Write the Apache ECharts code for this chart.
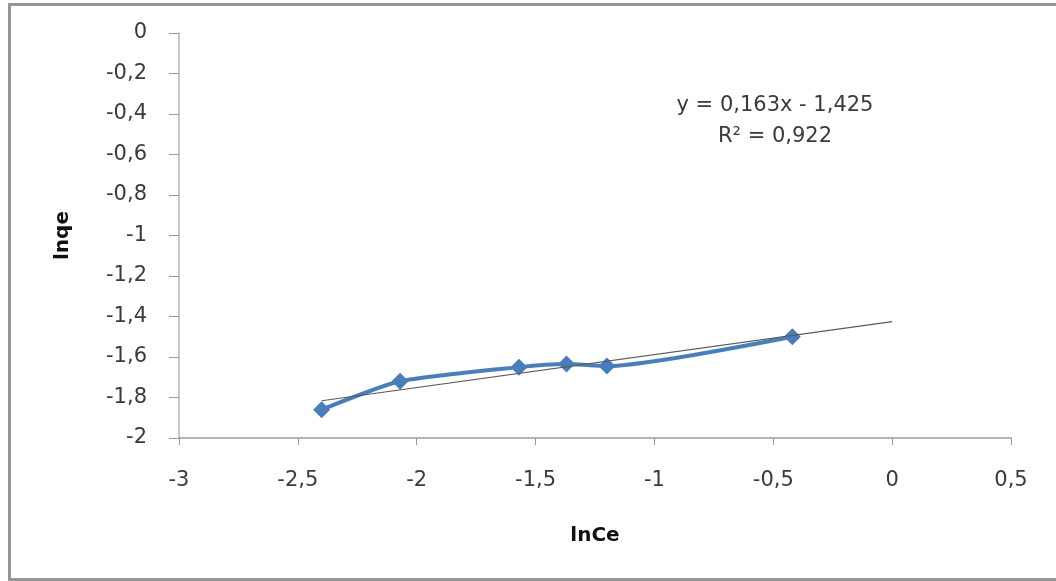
<!DOCTYPE html>
<html>
<head>
<meta charset="utf-8">
<script src="https://cdn.jsdelivr.net/npm/echarts@6/dist/echarts.min.js"></script>
<style>
    body { margin: 0; background: #fff; }
    #frame { position: absolute; left: 8px; top: 3px; width: 1070px; height: 572px; border: 3px solid #959595; }
    #chart { position: absolute; left: 0; top: 0; width: 1056px; height: 581px; }
</style>
</head>
<body>
<div id="frame"></div>
<div id="chart"></div>
<script>
// measured points (lnCe, lnqe)
const lnCe = [-2.40, -2.07, -1.57, -1.37, -1.20, -0.42];
const lnqe = [-1.86, -1.72, -1.65, -1.635, -1.645, -1.50];
// linear trendline endpoints
const trendX = [-2.40, 0];
const trendY = [-1.816, -1.425];
const eqText = "y = 0,163x - 1,425";
const r2Text = "R² = 0,922";

const font = "'DejaVu Sans', sans-serif";

function comma(v) {
    return String(Math.round(v * 10) / 10).replace('.', ',');
}

let chart = echarts.init(document.getElementById("chart"));
chart.setOption({
    animation: false,
    grid: { left: 179, top: 33, right: 45, bottom: 143 },
    xAxis: {
        type: 'value', min: -3, max: 0.5, interval: 0.5,
        name: 'lnCe', nameLocation: 'middle', nameGap: 88,
        nameTextStyle: { fontFamily: font, fontSize: 20, fontWeight: 'bold', color: '#111' },
        axisLine: { onZero: false, lineStyle: { color: '#9a9a9a', width: 1.5 } },
        axisTick: { length: 7, lineStyle: { color: '#9a9a9a' } },
        axisLabel: { margin: 32, fontFamily: font, fontSize: 21, color: '#3a3a3a', formatter: comma },
        splitLine: { show: false }
    },
    yAxis: {
        type: 'value', min: -2, max: 0, interval: 0.2,
        name: 'lnqe', nameLocation: 'middle', nameGap: 106, nameRotate: 90,
        nameTextStyle: { fontFamily: font, fontSize: 20, fontWeight: 'bold', color: '#111' },
        axisLine: { show: true, onZero: false, lineStyle: { color: '#b5b5b5', width: 1.5 } },
        axisTick: { show: true, length: 10, lineStyle: { color: '#9a9a9a' } },
        axisLabel: { margin: 32, fontFamily: font, fontSize: 21, color: '#3a3a3a', formatter: comma },
        splitLine: { show: false }
    },
    series: [
        {
            type: 'line',
            data: trendX.map((x, i) => [x, trendY[i]]),
            showSymbol: false,
            lineStyle: { color: '#5a5a5a', width: 1.2 },
            z: 3
        },
        {
            type: 'line',
            data: lnCe.map((x, i) => [x, lnqe[i]]),
            smooth: 0.2,
            symbol: 'diamond',
            symbolSize: 17,
            itemStyle: { color: '#4a7ebb' },
            lineStyle: { color: '#4a7ebb', width: 4 },
            z: 2
        }
    ],
    graphic: [
        {
            type: 'text', x: 775, y: 106,
            style: { text: eqText, font: '21px ' + font, fill: '#3a3a3a', align: 'center', verticalAlign: 'middle' }
        },
        {
            type: 'text', x: 775, y: 137,
            style: { text: r2Text, font: '21px ' + font, fill: '#3a3a3a', align: 'center', verticalAlign: 'middle' }
        }
    ]
});
</script>
</body>
</html>
